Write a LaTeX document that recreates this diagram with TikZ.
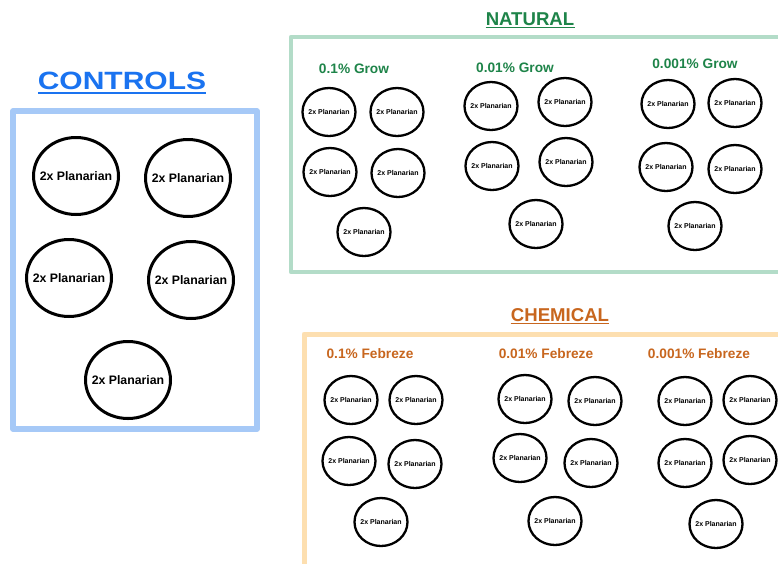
\documentclass[tikz,border=0pt]{standalone}
\usepackage{fontspec}
\setmainfont{Liberation Sans}
\usetikzlibrary{shapes.geometric}
\definecolor{ctrlblue}{HTML}{1A73F0}
\definecolor{ctrlbox}{HTML}{A6C9F7}
\definecolor{natgreen}{HTML}{1E8449}
\definecolor{natbox}{HTML}{B3DCC8}
\definecolor{chemorange}{HTML}{C8661E}
\definecolor{chembox}{HTML}{FDDFB0}
\newcommand{\dishtext}{\hbox to 0pt{\hss 2x Planarian\hss}}
\tikzset{
  bigdish/.style={ellipse, draw=black, line width=3pt, minimum width=85pt, minimum height=77pt, inner sep=0pt,
    font=\fontsize{12.3}{14}\selectfont\bfseries},
  smalldish/.style={ellipse, draw=black, line width=2.3pt, minimum width=53pt, minimum height=48pt, inner sep=0pt,
    font=\fontsize{7}{8}\selectfont\bfseries},
  frame/.style={line width=#1, line cap=round, line join=round},
  title/.style={anchor=base, inner sep=0pt, font=\fontsize{18.6}{20}\selectfont\bfseries},
  subtitle/.style={anchor=base, inner sep=0pt, font=\fontsize{13.7}{15}\selectfont\bfseries},
}
\begin{document}
\begin{tikzpicture}[x=1pt,y=-1pt]
\useasboundingbox (0,0) rectangle (778,563);
\clip (0,0) rectangle (778,563);
\fill[white] (0,0) rectangle (778,563);
% frames
\draw[frame=5.5pt, ctrlbox] (13,111) rectangle (257,429);
\draw[frame=4.5pt, natbox] (291,37) rectangle (820,272);
\draw[frame=5pt, chembox] (304,334) rectangle (820,620);
% titles
\node[title, text=ctrlblue, xscale=1.2, font=\fontsize{25}{27}\selectfont\bfseries] (tc) at (122,89) {CONTROLS};
\draw[ctrlblue, line width=2pt] (38,93) -- (206,93);
\node[title, text=natgreen] (tn) at (530,25) {NATURAL};
\draw[natgreen, line width=1.3pt] (tn.base west) ++(0,2.5) -- ++(89.5,0);
\node[title, text=chemorange] (tch) at (560,321) {CHEMICAL};
\draw[chemorange, line width=1.3pt] (tch.base west) ++(0,2.5) -- ++(98,0);
% subtitles
\node[subtitle, text=natgreen] (g1) at (354,73) {0.1\% Grow};
\node[subtitle, text=natgreen] (g2) at (515,72) {0.01\% Grow};
\node[subtitle, text=natgreen] (g3) at (695,68) {0.001\% Grow};
\node[subtitle, text=chemorange] (f1) at (370,358) {0.1\% Febreze};
\node[subtitle, text=chemorange] (f2) at (546,358) {0.01\% Febreze};
\node[subtitle, text=chemorange] (f3) at (699,358) {0.001\% Febreze};
% controls dishes
\foreach \n/\x/\y in {c1/76/176, c2/188/178, c3/69/278, c4/191/280, c5/128/380}
  \node[bigdish] (\n) at (\x,\y) {\dishtext};
% natural dishes
\foreach \n/\x/\y in {na1/329/112, na2/397/112, na3/330/172, na4/398/173, na5/364/232,
                      nb1/491/106, nb2/565/102, nb3/492/166, nb4/566/162, nb5/536/224,
                      nc1/668/104, nc2/735/103, nc3/666/167, nc4/735/169, nc5/695/226}
  \node[smalldish] (\n) at (\x,\y) {\dishtext};
% chemical dishes
\foreach \n/\x/\y in {ca1/351/400, ca2/416/400, ca3/349/461, ca4/415/464, ca5/381/522,
                      cb1/525/399, cb2/595/401, cb3/520/458, cb4/591/463, cb5/555/521,
                      cc1/685/401, cc2/750/400, cc3/685/463, cc4/750/460, cc5/716/524}
  \node[smalldish] (\n) at (\x,\y) {\dishtext};
\end{tikzpicture}
\end{document}
